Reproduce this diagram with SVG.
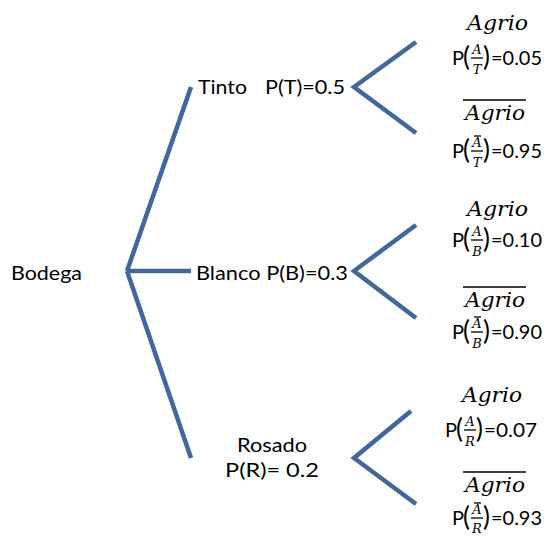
<svg xmlns="http://www.w3.org/2000/svg" width="546" height="536" viewBox="0 0 546 536">
  <style>
    .edge { stroke: #41679b; stroke-width: 4.5; fill: none; stroke-linecap: butt; }
    .lbl { font-family: Lato, "Open Sans", "Liberation Sans", sans-serif; font-size: 20px; fill: #000; }
    .math { font-family: "DejaVu Serif", "Liberation Serif", serif; font-style: italic; font-size: 20px; fill: #000; }
    .frac { font-family: "DejaVu Serif", "Liberation Serif", serif; font-style: italic; font-size: 13px; fill: #000; text-anchor: middle; }
    .bar { stroke: #000; stroke-width: 1.3; }
    .paren { font-family: Lato, "Open Sans", "Liberation Sans", sans-serif; font-size: 26px; fill: #000; }
  </style>

  <g id="connectors">
    <line class="edge" x1="127" y1="271" x2="191" y2="87"/>
    <line class="edge" x1="127" y1="271" x2="191" y2="271"/>
    <line class="edge" x1="127" y1="271" x2="191" y2="458"/>
    <polyline class="edge" points="416,42 354,87 416,133"/>
    <polyline class="edge" points="416,225 354,271 416,318"/>
    <polyline class="edge" points="411,411 354,458 416,504"/>
  </g>

  <g id="bodega">
    <text class="lbl" x="11" y="280" textLength="71" lengthAdjust="spacingAndGlyphs">Bodega</text>
  </g>

  <g id="tinto">
    <text class="lbl" x="198" y="94" textLength="49" lengthAdjust="spacingAndGlyphs">Tinto</text>
    <text class="lbl" x="265" y="94" textLength="80" lengthAdjust="spacingAndGlyphs">P(T)=0.5</text>
  </g>

  <g id="blanco">
    <text class="lbl" x="196" y="280" textLength="152" lengthAdjust="spacingAndGlyphs">Blanco P(B)=0.3</text>
  </g>

  <g id="rosado">
    <text class="lbl" x="237" y="452" textLength="70" lengthAdjust="spacingAndGlyphs">Rosado</text>
    <text class="lbl" x="225" y="477" textLength="94" lengthAdjust="spacingAndGlyphs">P(R)= 0.2</text>
  </g>

  <!-- Tinto outcomes -->
  <g id="tinto-agrio">
    <text class="math" x="467" y="30" textLength="61" lengthAdjust="spacingAndGlyphs">Agrio</text>
    <text class="lbl" x="452" y="65">P</text>
    <text class="paren" x="463" y="66">(</text>
    <text class="frac" x="477" y="54">A</text>
    <line class="bar" x1="471" y1="58" x2="483" y2="58"/>
    <text class="frac" x="477" y="74">T</text>
    <text class="paren" x="483" y="66">)</text>
    <text class="lbl" x="491" y="65" textLength="51" lengthAdjust="spacingAndGlyphs">=0.05</text>
  </g>
  <g id="tinto-no-agrio">
    <line class="bar" x1="463" y1="100" x2="526" y2="100"/>
    <text class="math" x="465" y="120" textLength="60" lengthAdjust="spacingAndGlyphs">Agrio</text>
    <text class="lbl" x="452" y="158">P</text>
    <text class="paren" x="463" y="159">(</text>
    <line class="bar" x1="474" y1="136" x2="481" y2="136"/>
    <text class="frac" x="477" y="147">A</text>
    <line class="bar" x1="471" y1="151" x2="483" y2="151"/>
    <text class="frac" x="477" y="167">T</text>
    <text class="paren" x="483" y="159">)</text>
    <text class="lbl" x="491" y="158" textLength="51" lengthAdjust="spacingAndGlyphs">=0.95</text>
  </g>

  <!-- Blanco outcomes -->
  <g id="blanco-agrio">
    <text class="math" x="467" y="216" textLength="61" lengthAdjust="spacingAndGlyphs">Agrio</text>
    <text class="lbl" x="452" y="247">P</text>
    <text class="paren" x="463" y="248">(</text>
    <text class="frac" x="477" y="236">A</text>
    <line class="bar" x1="471" y1="240" x2="483" y2="240"/>
    <text class="frac" x="477" y="256">B</text>
    <text class="paren" x="483" y="248">)</text>
    <text class="lbl" x="491" y="247" textLength="51" lengthAdjust="spacingAndGlyphs">=0.10</text>
  </g>
  <g id="blanco-no-agrio">
    <line class="bar" x1="463" y1="287" x2="526" y2="287"/>
    <text class="math" x="465" y="307" textLength="60" lengthAdjust="spacingAndGlyphs">Agrio</text>
    <text class="lbl" x="452" y="339">P</text>
    <text class="paren" x="463" y="340">(</text>
    <line class="bar" x1="474" y1="317" x2="481" y2="317"/>
    <text class="frac" x="477" y="328">A</text>
    <line class="bar" x1="471" y1="332" x2="483" y2="332"/>
    <text class="frac" x="477" y="348">B</text>
    <text class="paren" x="483" y="340">)</text>
    <text class="lbl" x="491" y="339" textLength="51" lengthAdjust="spacingAndGlyphs">=0.90</text>
  </g>

  <!-- Rosado outcomes -->
  <g id="rosado-agrio">
    <text class="math" x="462" y="402" textLength="60" lengthAdjust="spacingAndGlyphs">Agrio</text>
    <text class="lbl" x="445" y="437">P</text>
    <text class="paren" x="456" y="438">(</text>
    <text class="frac" x="470" y="426">A</text>
    <line class="bar" x1="464" y1="430" x2="476" y2="430"/>
    <text class="frac" x="470" y="446">R</text>
    <text class="paren" x="476" y="438">)</text>
    <text class="lbl" x="484" y="437" textLength="53" lengthAdjust="spacingAndGlyphs">=0.07</text>
  </g>
  <g id="rosado-no-agrio">
    <line class="bar" x1="463" y1="472" x2="526" y2="472"/>
    <text class="math" x="465" y="492" textLength="60" lengthAdjust="spacingAndGlyphs">Agrio</text>
    <text class="lbl" x="452" y="525">P</text>
    <text class="paren" x="463" y="526">(</text>
    <line class="bar" x1="474" y1="503" x2="481" y2="503"/>
    <text class="frac" x="477" y="514">A</text>
    <line class="bar" x1="471" y1="518" x2="483" y2="518"/>
    <text class="frac" x="477" y="533">R</text>
    <text class="paren" x="483" y="526">)</text>
    <text class="lbl" x="491" y="525" textLength="51" lengthAdjust="spacingAndGlyphs">=0.93</text>
  </g>
</svg>
